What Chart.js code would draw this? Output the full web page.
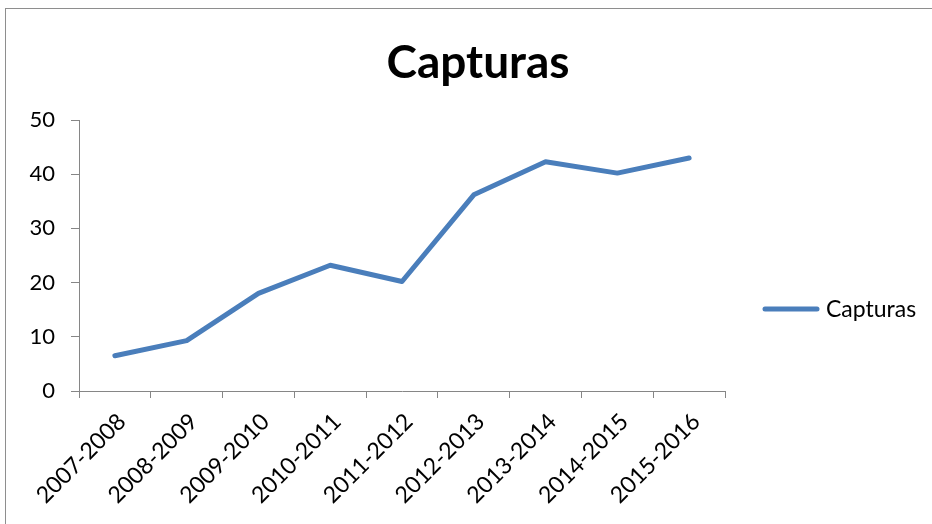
<!DOCTYPE html>
<html>
<head>
<meta charset="utf-8">
<script src="https://cdn.jsdelivr.net/npm/chart.js@4.4.1/dist/chart.umd.min.js"></script>
<style>
  html, body { margin: 0; padding: 0; background: #fff; overflow: hidden; }
  #wrap { position: relative; width: 932px; height: 524px; }
  #frame { position: absolute; left: 5px; top: 8px; width: 1000px; height: 600px; border: 1px solid #8e8e8e; }
  #chart { position: absolute; left: 0; top: 0; }
</style>
</head>
<body>
<div id="wrap">
  <div id="frame"></div>
  <canvas id="chart" width="932" height="524"></canvas>
</div>
<script>
// --- Data ---
const seasons = ['2007-2008', '2008-2009', '2009-2010', '2010-2011', '2011-2012',
                 '2012-2013', '2013-2014', '2014-2015', '2015-2016'];
const capturas = [6.5, 9.3, 18, 23.2, 20.2, 36.2, 42.3, 40.2, 43];
const seriesName = 'Capturas';
const chartTitle = 'Capturas';

// --- Styles ---
const LINE_COLOR = '#4a7ebb';
const AXIS_COLOR = '#868686';
const FONT = 'Lato, "Open Sans", sans-serif';

// title + legend drawn like the spreadsheet chart (legend outside the plot area)
const titleAndLegend = {
  id: 'titleAndLegend',
  afterDraw(chart) {
    const ctx = chart.ctx;
    ctx.save();
    ctx.fillStyle = '#000';
    ctx.font = 'bold 46px ' + FONT;
    ctx.textAlign = 'center';
    ctx.textBaseline = 'alphabetic';
    ctx.fillText(chartTitle, 478, 78);

    // legend
    const ds = chart.data.datasets[0];
    const ly = 309;
    ctx.strokeStyle = ds.borderColor;
    ctx.lineWidth = ds.borderWidth;
    ctx.lineCap = 'round';
    ctx.beginPath();
    ctx.moveTo(765, ly);
    ctx.lineTo(817, ly);
    ctx.stroke();
    ctx.font = '23px ' + FONT;
    ctx.textAlign = 'left';
    ctx.textBaseline = 'middle';
    ctx.fillText(ds.label, 826, ly + 1);
    ctx.restore();
  }
};

new Chart(document.getElementById('chart'), {
  type: 'line',
  data: {
    labels: seasons,
    datasets: [{
      label: seriesName,
      data: capturas,
      borderColor: LINE_COLOR,
      backgroundColor: LINE_COLOR,
      borderWidth: 5,
      borderCapStyle: 'round',
      borderJoinStyle: 'round',
      pointRadius: 0,
      tension: 0
    }]
  },
  options: {
    responsive: false,
    animation: false,
    layout: { padding: { left: 0, top: 120, right: 207, bottom: 0 } },
    plugins: {
      legend: { display: false },
      title: { display: false },
      tooltip: { enabled: false }
    },
    scales: {
      x: {
        offset: true,
        grid: { offset: true, drawOnChartArea: false, drawTicks: true, tickLength: 7, color: AXIS_COLOR },
        border: { display: true, color: AXIS_COLOR, width: 1 },
        ticks: { color: '#000', font: { family: FONT, size: 23 }, minRotation: 45, maxRotation: 45, padding: 10, labelOffset: 7, autoSkip: false },
        afterFit(scale) { scale.height = 133; }
      },
      y: {
        min: 0,
        max: 50,
        grid: { drawOnChartArea: false, drawTicks: true, tickLength: 8, color: AXIS_COLOR },
        border: { display: true, color: AXIS_COLOR, width: 1 },
        ticks: { stepSize: 10, color: '#000', font: { family: FONT, size: 22 }, padding: 16 },
        afterFit(scale) { scale.width = 79; }
      }
    }
  },
  plugins: [titleAndLegend]
});
</script>
</body>
</html>
